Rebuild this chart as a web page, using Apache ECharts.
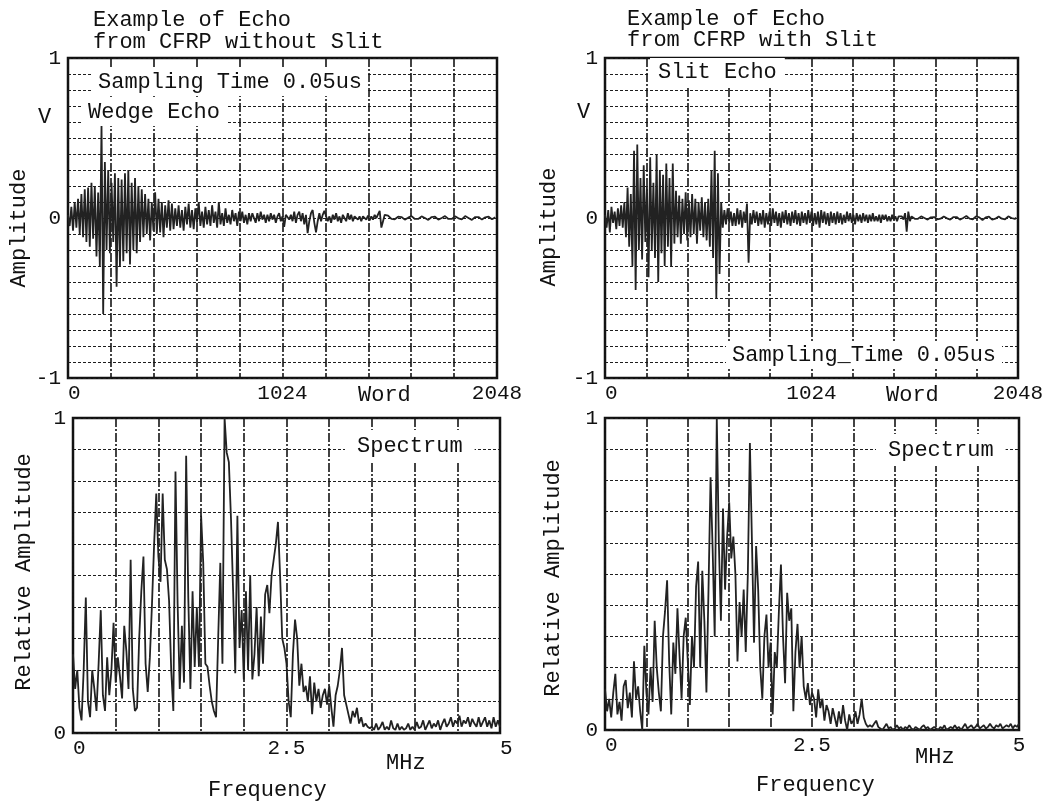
<!DOCTYPE html>
<html>
<head>
<meta charset="utf-8">
<script src="https://cdn.jsdelivr.net/npm/echarts@6/dist/echarts.min.js"></script>
<style>
  html, body { margin: 0; padding: 0; background: #fff; }
  #chart { width: 1057px; height: 802px; }
</style>
</head>
<body>
<div id="chart"></div>
<script>
// echo waveforms, one value every 8 words (2048 words = full axis)
const wordStep = 8;
const wedgeEcho = [
  0.02, -0.05, 0.07, -0.08, 0.1, -0.06, 0.12, -0.1, 0.15, -0.12, 0.18, -0.15, 0.19, -0.18, 0.22, -0.13,
  0.2, -0.24, 0.16, -0.3, 0.58, -0.6, 0.35, -0.2, 0.3, -0.22, 0.22, -0.15, 0.28, -0.43, 0.25, -0.3,
  0.24, -0.27, 0.28, -0.22, 0.3, -0.29, 0.22, -0.2, 0.25, -0.22, 0.2, -0.15, 0.18, -0.12, 0.15, -0.1,
  0.12, -0.14, 0.1, -0.08, 0.16, -0.1, 0.12, -0.09, 0.1, -0.12, 0.08, -0.06, 0.11, -0.08, 0.09, -0.07,
  0.06, -0.05, 0.08, -0.06, 0.05, -0.08, 0.07, -0.04, 0.09, -0.06, 0.05, -0.07, 0.06, -0.03, 0.1, -0.05,
  0.04, -0.06, 0.07, -0.04, 0.05, -0.05, 0.08, -0.03, 0.04, -0.06, 0.1, -0.04, 0.03, -0.05, 0.06, -0.03,
  0.02, -0.04, 0.05, -0.02, 0.03, -0.05, 0.04, -0.02, 0.04, -0.03, 0.02, -0.04, 0.03, -0.02, 0.03, 0.02,
  -0.03, 0.03, -0.02, 0.04, -0.01, 0.02, -0.03, 0.02, -0.02, 0.03, -0.01, 0.02, -0.03, 0.01, 0.03, -0.02,
  0.01, -0.055, 0.02, 0.03, -0.01, 0.02, -0.02, 0.04, -0.03, 0.02, 0.04, -0.02, 0.03, -0.04, 0.02, -0.095,
  -0.02, 0.03, 0.05, -0.03, -0.09, -0.02, 0.03, -0.02, 0.02, 0.045, 0.045, -0.02, 0.01, -0.03, 0.02, -0.01,
  0.03, -0.02, 0.01, -0.03, 0.02, 0.01, -0.02, 0.03, -0.01, 0.02, -0.02, 0.01, 0.02, -0.01, 0.01, -0.02,
  0.01, 0.02, -0.01, 0.015, -0.015, 0.01, -0.01, 0.02, 0.0, 0.01, 0.045, -0.06, -0.02, 0.02, 0.01, 0.015,
  0.005, -0.005, -0.012, -0.008, 0.0, 0.008, 0.012, 0.006, -0.004, -0.01, -0.008, 0.002, 0.01, 0.012, 0.004, -0.006,
  -0.012, -0.006, 0.004, 0.01, 0.008, 0.0, -0.008, -0.012, -0.004, 0.006, 0.012, 0.008, -0.002, -0.01, -0.01, 0.0,
  0.01, 0.012, 0.004, -0.006, -0.012, -0.006, 0.004, 0.01, 0.008, -0.002, -0.01, -0.008, 0.002, 0.012, 0.01, 0.0,
  -0.008, -0.012, -0.004, 0.006, 0.012, 0.006, -0.004, -0.01, -0.006, 0.004, 0.01, 0.008, -0.002, -0.008, -0.004, 0.004
];
const slitEcho = [
  0.02, -0.06, 0.05, -0.09, 0.07, -0.03, 0.04, -0.07, 0.06, -0.05, 0.08, -0.06, 0.1, -0.12, 0.19, -0.18,
  0.15, -0.3, 0.42, -0.45, 0.46, -0.2, 0.25, -0.26, 0.33, -0.15, 0.2, -0.37, 0.38, -0.2, 0.22, -0.25,
  0.4, -0.4, 0.3, -0.22, 0.27, -0.3, 0.34, -0.18, 0.25, -0.3, 0.34, -0.16, 0.17, -0.12, 0.14, -0.16,
  0.12, -0.1, 0.16, -0.14, 0.11, -0.12, 0.15, -0.1, 0.12, -0.16, 0.1, -0.08, 0.13, -0.12, 0.1, -0.14,
  0.12, -0.18, 0.3, -0.25, 0.42, -0.5, 0.28, -0.35, 0.1, -0.06, 0.05, -0.04, 0.06, -0.03, 0.04, -0.05,
  0.03, -0.05, 0.06, -0.04, 0.05, -0.06, 0.04, -0.03, 0.09, -0.28, 0.03, -0.04, 0.05, -0.03, 0.04, -0.05,
  0.03, -0.04, 0.05, -0.06, 0.03, -0.04, 0.04, -0.05, 0.06, -0.03, 0.04, -0.05, 0.03, -0.06, 0.04, -0.03,
  0.05, -0.04, 0.03, -0.05, 0.04, -0.03, 0.05, -0.04, 0.03, -0.05, 0.04, -0.03, 0.03, -0.04, 0.05, -0.03,
  0.04, -0.05, 0.03, -0.04, 0.04, -0.06, 0.05, -0.03, 0.04, -0.04, 0.03, -0.05, 0.04, -0.03, 0.03, -0.04,
  0.04, -0.03, 0.03, -0.04, 0.02, -0.03, 0.04, -0.02, 0.03, -0.03, 0.02, -0.04, 0.03, -0.02, 0.02, -0.03,
  0.03, -0.02, 0.02, -0.03, 0.02, -0.02, 0.03, -0.02, 0.01, -0.02, 0.02, -0.03, 0.02, -0.01, 0.02, -0.02,
  0.01, -0.02, 0.02, -0.01, 0.01, -0.02, 0.01, 0.0, 0.01, -0.01, 0.03, -0.085, 0.04, -0.02, 0.01, 0.0,
  -0.005, -0.01, -0.005, 0.004, 0.01, 0.008, 0.0, -0.008, -0.01, -0.004, 0.004, 0.01, 0.006, -0.002, -0.008, -0.01,
  -0.004, 0.006, 0.01, 0.006, -0.002, -0.008, -0.01, -0.002, 0.006, 0.012, 0.006, -0.004, -0.01, -0.008, 0.0, 0.008,
  0.012, 0.006, -0.004, -0.012, -0.008, 0.002, 0.01, 0.012, 0.004, -0.006, -0.012, -0.006, 0.004, 0.01, 0.008, -0.002,
  -0.01, -0.012, -0.004, 0.006, 0.01, 0.006, -0.004, -0.01, -0.008, 0.002, 0.01, 0.008, 0.0, -0.008, -0.006, 0.002
];

// spectra, one value every 0.025 MHz from 0 to 5 MHz
const mhzStep = 0.025;
const spectrumNoSlit = [
  0.25, 0.14, 0.2, 0.08, 0.04, 0.2, 0.43, 0.1, 0.05, 0.2,
  0.14, 0.07, 0.22, 0.39, 0.12, 0.07, 0.24, 0.12, 0.2, 0.35,
  0.16, 0.24, 0.18, 0.11, 0.34, 0.26, 0.14, 0.55, 0.14, 0.07,
  0.08, 0.3, 0.45, 0.56, 0.22, 0.13, 0.24, 0.41, 0.6, 0.76,
  0.56, 0.48, 0.76, 0.55, 0.52, 0.42, 0.2, 0.07, 0.83, 0.41,
  0.14, 0.34, 0.16, 0.88, 0.43, 0.14, 0.45, 0.21, 0.4, 0.21,
  0.69, 0.54, 0.22, 0.21, 0.15, 0.1, 0.07, 0.05, 0.3, 0.54,
  0.22, 1.0, 0.89, 0.86, 0.68, 0.45, 0.19, 0.69, 0.27, 0.39,
  0.17, 0.45, 0.2, 0.5, 0.17, 0.25, 0.4, 0.18, 0.37, 0.22,
  0.44, 0.47, 0.38, 0.5, 0.55, 0.6, 0.67, 0.5, 0.3, 0.27,
  0.22, 0.1, 0.05, 0.25, 0.36, 0.3, 0.15, 0.22, 0.13, 0.15,
  0.1, 0.18, 0.06, 0.16, 0.1, 0.14, 0.08, 0.12, 0.14, 0.09,
  0.15, 0.08, 0.02, 0.12, 0.15, 0.2, 0.27, 0.12, 0.09, 0.06,
  0.03, 0.07, 0.05, 0.08, 0.03, 0.05, 0.02, 0.03, 0.02, 0.015,
  0.02, 0.01, 0.03, 0.01, 0.02, 0.035, 0.01, 0.02, 0.01, 0.04,
  0.015, 0.01, 0.03, 0.01, 0.02, 0.01, 0.015, 0.03, 0.01, 0.02,
  0.01, 0.035, 0.015, 0.02, 0.04, 0.01, 0.025, 0.04, 0.015, 0.03,
  0.02, 0.04, 0.01, 0.03, 0.045, 0.02, 0.03, 0.05, 0.02, 0.04,
  0.03, 0.055, 0.02, 0.04, 0.03, 0.05, 0.02, 0.045, 0.03, 0.02,
  0.05, 0.02, 0.035, 0.05, 0.02, 0.04, 0.015, 0.05, 0.02, 0.04, 0.02
];
const spectrumSlit = [
  0.13, 0.06, 0.1, 0.04, 0.12, 0.18, 0.05, 0.09, 0.03, 0.14,
  0.16, 0.07, 0.12, 0.04, 0.22, 0.1, 0.14, 0.06, 0.0, 0.27,
  0.12, 0.05, 0.2, 0.09, 0.35, 0.2, 0.12, 0.06, 0.3, 0.38,
  0.48, 0.22, 0.05, 0.28, 0.18, 0.39, 0.24, 0.1, 0.3, 0.36,
  0.22, 0.08, 0.3, 0.2, 0.46, 0.54, 0.2, 0.51, 0.35, 0.12,
  0.45, 0.81, 0.58, 0.3, 1.0, 0.6, 0.35, 0.71, 0.45, 0.62,
  0.73, 0.55, 0.62, 0.5, 0.22, 0.41, 0.3, 0.45, 0.25, 0.5,
  0.92, 0.6, 0.28, 0.59, 0.45, 0.2, 0.1, 0.3, 0.37, 0.2,
  0.28, 0.05, 0.25, 0.2, 0.38, 0.53, 0.3, 0.15, 0.44, 0.35,
  0.39, 0.06, 0.25, 0.34, 0.2, 0.3, 0.14, 0.1, 0.15, 0.08,
  0.12, 0.1, 0.04, 0.13, 0.07, 0.1, 0.03, 0.08, 0.06, 0.02,
  0.07, 0.04, 0.01, 0.06, 0.02, 0.08, 0.03, 0.0, 0.05, 0.02,
  0.03, 0.06, 0.02, 0.05, 0.1, 0.04, 0.02, 0.01, 0.015, 0.01,
  0.02, 0.03, 0.01, 0.005, 0.0, 0.01, 0.02, 0.005, 0.01, 0.0,
  0.005, 0.015, 0.005, 0.01, 0.0, 0.01, 0.005, 0.015, 0.005, 0.0,
  0.01, 0.005, 0.0, 0.01, 0.015, 0.005, 0.01, 0.0, 0.005, 0.01,
  0.005, 0.0, 0.01, 0.005, 0.015, 0.0, 0.005, 0.01, 0.005, 0.015,
  0.005, 0.01, 0.0, 0.01, 0.02, 0.005, 0.01, 0.015, 0.005, 0.01,
  0.02, 0.005, 0.01, 0.015, 0.005, 0.01, 0.02, 0.01, 0.005, 0.015,
  0.01, 0.02, 0.005, 0.01, 0.015, 0.01, 0.02, 0.005, 0.015, 0.01, 0.02
];

const wordLabels = [0, 1024, 2048];
const ampLabels = [-1, 0, 1];
const mhzLabels = [0, 2.5, 5];
const relLabels = [0, 1];

const FONT = 'Liberation Mono';
const INK = '#111';
const TEXT_FONT = '22px "' + FONT + '"';

const chart = echarts.init(document.getElementById('chart'));

function pickLabel(list) {
  return function (v) {
    for (const t of list) {
      if (Math.abs(v - t) < 1e-6 * Math.max(1, Math.abs(t))) return String(t);
    }
    return '';
  };
}

const hLine = { show: true, lineStyle: { color: '#1e1e1e', width: 1.2, type: [3, 2] } };
const vLine = { show: true, lineStyle: { color: '#151515', width: 1.6, type: [9, 2, 2, 2] } };
const labelBase = { fontFamily: FONT, fontSize: 21, color: INK };

function xAxisFor(grid, max, interval, labels, alignMax) {
  return {
    gridIndex: grid, type: 'value', min: 0, max: max, interval: interval,
    axisLine: { show: false }, axisTick: { show: false },
    splitLine: vLine,
    axisLabel: Object.assign({}, labelBase, {
      margin: 5, formatter: pickLabel(labels),
      alignMinLabel: 'left', alignMaxLabel: alignMax
    })
  };
}
function yAxisFor(grid, min, labels) {
  return {
    gridIndex: grid, type: 'value', min: min, max: 1, interval: 0.1,
    axisLine: { show: false }, axisTick: { show: false },
    splitLine: hLine,
    axisLabel: Object.assign({}, labelBase, { margin: 7, formatter: pickLabel(labels) })
  };
}
function trace(i, points) {
  return {
    type: 'line', xAxisIndex: i, yAxisIndex: i, data: points,
    showSymbol: false, silent: true, z: 3,
    lineStyle: { color: '#222', width: 1.8 }
  };
}

const frame = { show: true, borderColor: '#111', borderWidth: 2.5, backgroundColor: 'transparent' };

function txt(x, y, text, extra) {
  return Object.assign({
    type: 'text', x: x, y: y, z: 50,
    style: Object.assign({
      text: text, fill: INK, font: TEXT_FONT,
      align: 'left', verticalAlign: 'middle'
    }, (extra && extra.style) || {})
  }, extra && extra.rotation ? { rotation: extra.rotation } : {});
}
const boxed = { style: { backgroundColor: '#fff', padding: [3, 6] } };
const up = Math.PI / 2;

chart.setOption({
  animation: false,
  backgroundColor: '#fff',
  grid: [
    Object.assign({ left: 68, top: 58, width: 429, height: 320 }, frame),
    Object.assign({ left: 605, top: 58, width: 413, height: 320 }, frame),
    Object.assign({ left: 73, top: 418, width: 427, height: 315 }, frame),
    Object.assign({ left: 605, top: 418, width: 414, height: 312 }, frame)
  ],
  xAxis: [
    xAxisFor(0, 2048, 204.8, wordLabels, 'center'),
    xAxisFor(1, 2048, 204.8, wordLabels, 'center'),
    xAxisFor(2, 5, 0.5, mhzLabels, 'left'),
    xAxisFor(3, 5, 0.5, mhzLabels, 'center')
  ],
  yAxis: [
    yAxisFor(0, -1, ampLabels),
    yAxisFor(1, -1, ampLabels),
    yAxisFor(2, 0, relLabels),
    yAxisFor(3, 0, relLabels)
  ],
  series: [
    trace(0, wedgeEcho.map((v, i) => [i * wordStep, v])),
    trace(1, slitEcho.map((v, i) => [i * wordStep, v])),
    trace(2, spectrumNoSlit.map((v, i) => [i * mhzStep, v])),
    trace(3, spectrumSlit.map((v, i) => [i * mhzStep, v]))
  ],
  graphic: [
    txt(93, 20, 'Example of Echo'),
    txt(93, 42, 'from CFRP without Slit'),
    txt(627, 19, 'Example of Echo'),
    txt(627, 40, 'from CFRP with Slit'),
    txt(92, 82, 'Sampling Time 0.05us', boxed),
    txt(82, 112, 'Wedge Echo', boxed),
    txt(650, 72, 'Slit Echo', { style: { backgroundColor: '#fff', padding: [3, 8] } }),
    txt(726, 355, 'Sampling_Time 0.05us', boxed),
    txt(345, 446, 'Spectrum', { style: { backgroundColor: '#fff', padding: [5, 12] } }),
    txt(876, 450, 'Spectrum', { style: { backgroundColor: '#fff', padding: [5, 12] } }),
    txt(38, 117, 'V'),
    txt(577, 112, 'V'),
    txt(358, 395, 'Word'),
    txt(886, 395, 'Word'),
    txt(386, 763, 'MHz'),
    txt(915, 757, 'MHz'),
    txt(208, 790, 'Frequency'),
    txt(756, 785, 'Frequency'),
    txt(19, 228, 'Amplitude', { rotation: up, style: { align: 'center' } }),
    txt(549, 227, 'Amplitude', { rotation: up, style: { align: 'center' } }),
    txt(24, 572, 'Relative Amplitude', { rotation: up, style: { align: 'center' } }),
    txt(553, 578, 'Relative Amplitude', { rotation: up, style: { align: 'center' } })
  ]
});
</script>
</body>
</html>
